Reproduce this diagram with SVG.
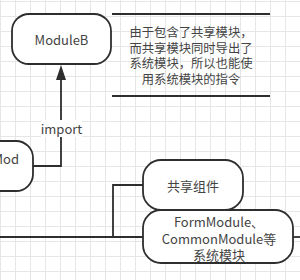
<svg xmlns="http://www.w3.org/2000/svg" width="300" height="280" viewBox="0 0 300 280">
<defs>
<pattern id="grid" width="15" height="15" patternUnits="userSpaceOnUse" x="0" y="1">
<path d="M0 0.5H15M0.5 0V15" fill="none" stroke="#e6e6e6" stroke-width="1"/>
</pattern>
<style>
.node{fill:#fff;stroke:#2e2e2e;stroke-width:1.8}
.t{font-family:"Noto Sans CJK SC","Liberation Sans",sans-serif;font-size:13px;fill:#444;text-anchor:middle;dominant-baseline:central}
.n{font-size:12.3px}
.c{fill:none;stroke:#2e2e2e;stroke-width:1.8}
</style>
</defs>
<rect width="300" height="280" fill="#fff"/>
<rect width="300" height="280" fill="url(#grid)"/>
<g id="connectors">
<path class="c" d="M33 166H61V80"/>
<polygon points="61,65 56,80 66,80" fill="#2e2e2e"/>
<rect x="41" y="120" width="41" height="17" fill="#fff"/>
<text class="t" x="61.5" y="128">import</text>
<path class="c" d="M0 237H143" stroke-width="2.4"/>
<path class="c" d="M113 237V185H143"/>
<path class="c" d="M293 237H300"/>
</g>
<g id="nodeA">
<rect class="node" x="-67" y="141" width="100" height="50" rx="17"/>
<text class="t" x="19" y="158" style="text-anchor:end">Mod</text>
</g>
<g id="moduleB">
<rect class="node" x="12" y="14" width="99" height="50" rx="17"/>
<text class="t" x="61.5" y="39">ModuleB</text>
</g>
<g id="note">
<path d="M112 14H270M112 96H270" stroke="#2e2e2e" stroke-width="1.8"/>
<text class="t n" x="191" y="32">由于包含了共享模块，</text>
<text class="t n" x="191" y="48">而共享模块同时导出了</text>
<text class="t n" x="191" y="63">系统模块，所以也能使</text>
<text class="t n" x="191" y="79">用系统模块的指令</text>
</g>
<g id="shared">
<rect class="node" x="143" y="160" width="100" height="50" rx="18"/>
<text class="t" x="193" y="185">共享组件</text>
</g>
<g id="system">
<rect class="node" x="143" y="210" width="150" height="53" rx="18"/>
<text class="t" x="219" y="221">FormModule、</text>
<text class="t" x="219" y="238">CommonModule等</text>
<text class="t" x="219" y="254">系统模块</text>
</g>
</svg>
